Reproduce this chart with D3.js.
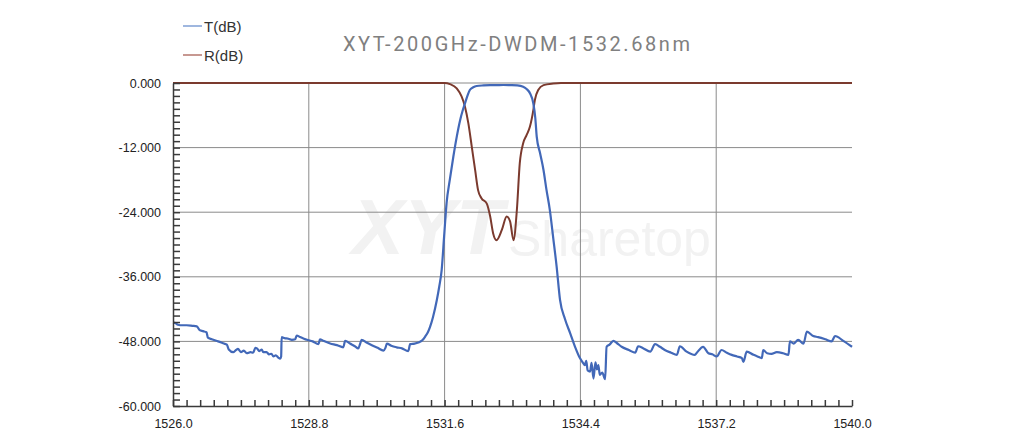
<!DOCTYPE html>
<html lang="en">
<head>
<meta charset="UTF-8">
<title>XYT-200GHz-DWDM-1532.68nm</title>
<style>
    body {
        margin: 0;
        padding: 0;
        background-color: #fff;
    }
    #chart text {
        font-family: Arial, "Liberation Sans", sans-serif;
    }
</style>
</head>
<body>
<svg id="chart" width="1035" height="440"></svg>

<script src="https://d3js.org/d3.v7.min.js"></script>
<script>
    // 透射谱 T(dB)：波长(nm)
    var t_nm = [1526.00, 1526.05, 1526.10, 1526.20, 1526.28, 1526.40, 1526.49, 1526.55, 1526.62, 1526.69,
        1526.72, 1526.80, 1526.93, 1527.05, 1527.11, 1527.15, 1527.24, 1527.30, 1527.34, 1527.40,
        1527.46, 1527.52, 1527.60, 1527.65, 1527.70, 1527.73, 1527.78, 1527.83, 1527.86, 1527.93,
        1527.98, 1528.03, 1528.07, 1528.12, 1528.17, 1528.21, 1528.23, 1528.24, 1528.30, 1528.38,
        1528.45, 1528.52, 1528.55, 1528.62, 1528.70, 1528.76, 1528.88, 1529.00, 1529.03, 1529.10,
        1529.24, 1529.38, 1529.51, 1529.55, 1529.65, 1529.75, 1529.82, 1529.86, 1529.89, 1529.99,
        1530.10, 1530.22, 1530.34, 1530.38, 1530.41, 1530.50, 1530.61, 1530.72, 1530.85, 1530.89,
        1530.98, 1531.06, 1531.14, 1531.20, 1531.26, 1531.30, 1531.36, 1531.44, 1531.49, 1531.54,
        1531.59, 1531.64, 1531.71, 1531.78, 1531.85, 1531.92, 1531.97, 1532.02, 1532.07, 1532.12,
        1532.19, 1532.26, 1532.40, 1532.55, 1532.70, 1532.81, 1532.95, 1533.10, 1533.22, 1533.29,
        1533.36, 1533.43, 1533.47, 1533.50, 1533.57, 1533.64, 1533.70, 1533.77, 1533.84, 1533.91,
        1533.98, 1534.08, 1534.19, 1534.29, 1534.39, 1534.44, 1534.49, 1534.52, 1534.55, 1534.60,
        1534.63, 1534.67, 1534.71, 1534.74, 1534.77, 1534.80, 1534.85, 1534.91, 1534.94, 1535.00,
        1535.08, 1535.15, 1535.25, 1535.40, 1535.53, 1535.59, 1535.70, 1535.84, 1535.94, 1536.04,
        1536.14, 1536.27, 1536.39, 1536.45, 1536.59, 1536.76, 1536.80, 1536.93, 1537.04, 1537.12,
        1537.21, 1537.31, 1537.42, 1537.52, 1537.63, 1537.73, 1537.76, 1537.83, 1537.97, 1538.05,
        1538.14, 1538.17, 1538.25, 1538.34, 1538.45, 1538.58, 1538.69, 1538.72, 1538.80, 1538.89,
        1539.00, 1539.07, 1539.20, 1539.30, 1539.45, 1539.58, 1539.65, 1539.82, 1540.00];
    var t_db = [-44.5, -44.6, -44.9, -45.0, -45.0, -45.1, -45.2, -45.9, -46.1, -46.3,
        -47.3, -47.6, -48.0, -48.4, -48.6, -49.5, -50.0, -49.6, -49.4, -50.0,
        -49.7, -50.2, -50.0, -50.1, -49.2, -49.3, -49.8, -49.5, -50.0, -50.0,
        -50.4, -50.3, -50.8, -50.6, -51.0, -51.2, -50.8, -47.2, -47.4, -47.5,
        -47.7, -47.6, -46.9, -47.2, -47.5, -47.7, -48.0, -48.5, -47.6, -47.9,
        -48.4, -48.7, -49.1, -47.9, -48.4, -48.9, -49.3, -48.4, -47.7, -48.2,
        -48.7, -49.2, -49.7, -49.2, -48.4, -48.8, -49.1, -49.3, -49.8, -48.5,
        -48.4, -48.2, -47.8, -47.1, -46.2, -45.3, -43.5, -40.3, -37.8, -34.7,
        -28.5, -22.4, -17.8, -13.7, -10.0, -6.9, -5.2, -3.8, -2.4, -1.3,
        -0.8, -0.56, -0.45, -0.40, -0.38, -0.37, -0.40, -0.45, -0.7, -1.1,
        -1.9, -3.8, -6.5, -10.0, -13.1, -16.2, -19.8, -23.6, -28.8, -34.1,
        -40.3, -43.8, -46.5, -49.0, -51.1, -51.8, -52.4, -51.6, -53.4, -53.6,
        -52.0, -54.9, -51.9, -53.2, -52.4, -54.2, -53.8, -55.0, -49.0, -48.6,
        -47.9, -48.3, -49.0, -49.6, -50.1, -48.9, -49.3, -49.9, -48.5, -49.0,
        -49.6, -50.1, -50.5, -48.9, -49.9, -50.5, -50.1, -49.0, -50.2, -50.4,
        -50.8, -49.6, -50.1, -50.5, -50.8, -51.1, -51.8, -49.9, -50.5, -50.8,
        -51.1, -49.6, -50.2, -50.3, -50.0, -50.2, -50.5, -48.0, -48.4, -47.7,
        -48.4, -46.2, -47.0, -47.2, -47.6, -48.0, -47.0, -47.9, -49.0];

    // 反射谱 R(dB)
    var r_nm = [1526.00, 1531.60, 1531.71, 1531.85, 1531.95, 1532.02, 1532.09, 1532.16, 1532.23, 1532.29,
        1532.36, 1532.47, 1532.54, 1532.60, 1532.67, 1532.78, 1532.88, 1532.95, 1533.02, 1533.09,
        1533.15, 1533.22, 1533.29, 1533.36, 1533.43, 1533.46, 1533.53, 1533.64, 1533.84, 1534.00, 1540.00];
    var r_db = [0, 0, -0.2, -1.0, -2.5, -4.4, -7.5, -11.8, -16.2, -19.9,
        -21.4, -22.4, -24.8, -27.9, -29.2, -27.3, -24.8, -25.7, -29.2, -23.6,
        -14.9, -11.2, -9.7, -8.1, -5.0, -3.2, -1.3, -0.4, -0.1, 0, 0];

    var x_major = [1526.0, 1528.8, 1531.6, 1534.4, 1537.2, 1540.0];
    var y_major = [0, -12, -24, -36, -48, -60];

    var chartTitle = "XYT-200GHz-DWDM-1532.68nm";
    var seriesNames = ["T(dB)", "R(dB)"];

    const svg = d3.select("#chart");

    const xScale = d3.scaleLinear().domain([1526, 1540]).range([173, 852]);
    const yScale = d3.scaleLinear().domain([0, -60]).range([83, 406]);

    // 水印
    svg.append("text")
      .attr("x", 352).attr("y", 254)
      .attr("font-size", 78).attr("font-weight", "bold").attr("font-style", "italic")
      .attr("fill", "#f2f2f2")
      .text("XYT");
    svg.append("text")
      .attr("x", 508).attr("y", 256)
      .attr("font-size", 50)
      .attr("fill", "#f2f2f2")
      .text("Sharetop");

    // 网格线
    svg.append("g").selectAll("line")
      .data(y_major.slice(0, 5))
      .enter().append("line")
      .attr("x1", xScale(1526)).attr("x2", xScale(1540))
      .attr("y1", d => yScale(d)).attr("y2", d => yScale(d))
      .attr("stroke", "#8a8a8a").attr("stroke-width", 1);
    svg.append("g").selectAll("line")
      .data(x_major.slice(1, 5))
      .enter().append("line")
      .attr("x1", d => xScale(d)).attr("x2", d => xScale(d))
      .attr("y1", yScale(0)).attr("y2", yScale(-60))
      .attr("stroke", "#8a8a8a").attr("stroke-width", 1);

    // 曲线
    const lineGen = d3.line()
      .x(d => xScale(d[0]))
      .y(d => yScale(d[1]))
      .curve(d3.curveMonotoneX);

    svg.append("path")
      .datum(r_nm.map((d, i) => [d, r_db[i]]))
      .attr("d", lineGen)
      .attr("fill", "none")
      .attr("stroke", "#7b3a2e")
      .attr("stroke-width", 2);

    svg.append("path")
      .datum(t_nm.map((d, i) => [d, t_db[i]]))
      .attr("d", lineGen)
      .attr("fill", "none")
      .attr("stroke", "#4268b8")
      .attr("stroke-width", 2.2);

    // 坐标轴（刻度朝内）
    var x_ticks = d3.range(0, 51).map(i => 1526 + i * 0.28);
    var y_ticks = d3.range(0, 51).map(i => -i * 1.2);

    const xAxis = d3.axisBottom(xScale)
      .tickValues(x_ticks)
      .tickSizeInner(-6).tickSizeOuter(0)
      .tickPadding(13)
      .tickFormat((d, i) => i % 10 === 0 ? d.toFixed(1) : "");
    const gx = svg.append("g")
      .attr("transform", "translate(0," + yScale(-60) + ")")
      .call(xAxis);

    const yAxis = d3.axisLeft(yScale)
      .tickValues(y_ticks)
      .tickSizeInner(-7).tickSizeOuter(0)
      .tickPadding(12)
      .tickFormat((d, i) => i % 10 === 0 ? d.toFixed(3) : "");
    const gy = svg.append("g")
      .attr("transform", "translate(" + xScale(1526) + ",0)")
      .call(yAxis);

    [gx, gy].forEach(g => {
      g.select(".domain").attr("stroke", "#3a3a3a").attr("stroke-width", 1.5);
      g.selectAll(".tick line").attr("stroke", "#3a3a3a").attr("stroke-width", 1.5);
      g.selectAll(".tick text").attr("fill", "#222").attr("font-size", 12.5);
    });

    // 标题
    svg.append("text")
      .attr("x", 343).attr("y", 51)
      .attr("font-size", 20)
      .attr("fill", "#808080")
      .attr("textLength", 347)
      .attr("lengthAdjust", "spacing")
      .style("font-family", "Roboto, Arial, sans-serif")
      .text(chartTitle);

    // 图例
    var legendColors = ["#7f9fd5", "#b5766c"];
    var legendY = [26, 55];
    seriesNames.forEach((name, i) => {
      svg.append("line")
        .attr("x1", 183).attr("x2", 202)
        .attr("y1", legendY[i]).attr("y2", legendY[i])
        .attr("stroke", legendColors[i]).attr("stroke-width", 1.5);
      svg.append("text")
        .attr("x", 204).attr("y", legendY[i] + 6)
        .attr("font-size", 15)
        .attr("fill", "#333")
        .text(name);
    });
</script>
</body>
</html>
